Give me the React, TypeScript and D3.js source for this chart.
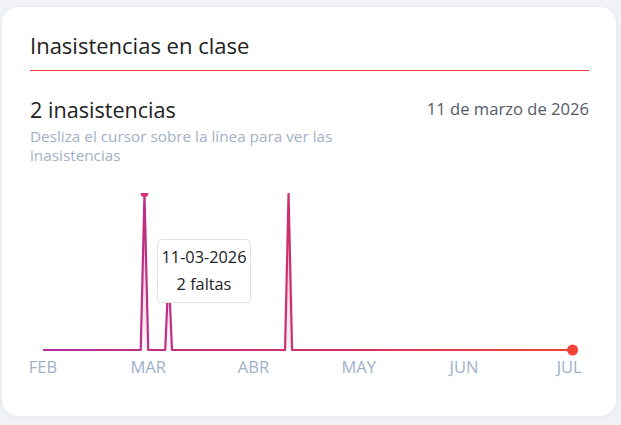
import * as d3 from 'd3';
import React, { useEffect, useRef } from 'react';

// month labels of the x axis
const monthLabels = ['FEB', 'MAR', 'ABR', 'MAY', 'JUN', 'JUL'];
const monthStarts = ['2026-02-01', '2026-03-01', '2026-04-01', '2026-05-01', '2026-06-01', '2026-07-01'];

// days with absences (the rest of the days are 0)
const absenceDates = ['2026-02-28', '2026-03-07', '2026-04-11'];
const absenceCounts = [2, 1, 2];

const rangeStart = '2026-02-01';
const rangeEnd = '2026-07-02';

const hoverDate = '2026-02-28';
const tooltipLines = ['11-03-2026', '2 faltas'];

const FONT = '"Open Sans", "Noto Sans", sans-serif';

const App = () => {
    const chartArea = useRef<SVGSVGElement | null>(null);
    const W = 621, H = 425;
    const margin = { left: 43, right: 49, top: 193, bottom: 74 };

    useEffect(() => {
        if (!chartArea.current) return;
        const svg = d3.select(chartArea.current);
        svg.selectAll('*').remove();

        const parse = d3.timeParse('%Y-%m-%d');
        const days = d3.timeDay.range(parse(rangeStart)!, d3.timeDay.offset(parse(rangeEnd)!, 1));
        const fmt = d3.timeFormat('%Y-%m-%d');
        const lookup = new Map(absenceDates.map((d, i) => [d, absenceCounts[i]]));
        const data = days.map(d => ({ date: d, value: lookup.get(fmt(d)) ?? 0 }));

        // months are evenly spaced, position inside the month by day
        const monthPos = (d: Date) => {
            const m = d.getMonth() - 1;
            const dim = new Date(d.getFullYear(), d.getMonth() + 1, 0).getDate();
            return m + (d.getDate() - 1) / dim;
        };
        const x = d3.scaleLinear().domain([0, monthLabels.length - 1]).range([margin.left, 569.2]);
        const y = d3.scaleLinear().domain([0, 2]).range([H - margin.bottom - 0.5 - 0.5, margin.top]);

        const defs = svg.append('defs');
        const filter = defs.append('filter').attr('id', 'shadow').attr('x', '-10%').attr('y', '-10%').attr('width', '120%').attr('height', '120%');
        filter.append('feDropShadow').attr('dx', 0).attr('dy', 1).attr('stdDeviation', 3).attr('flood-color', '#8a97b5').attr('flood-opacity', 0.18);

        const lg = defs.append('linearGradient').attr('id', 'lineGrad').attr('gradientUnits', 'userSpaceOnUse')
            .attr('x1', margin.left).attr('x2', 575).attr('y1', 0).attr('y2', 0);
        lg.append('stop').attr('offset', '0%').attr('stop-color', '#b0309a');
        lg.append('stop').attr('offset', '50%').attr('stop-color', '#d02f6a');
        lg.append('stop').attr('offset', '100%').attr('stop-color', '#f44336');

        const ag = defs.append('linearGradient').attr('id', 'areaGrad').attr('x1', 0).attr('x2', 0).attr('y1', 0).attr('y2', 1);
        ag.append('stop').attr('offset', '0%').attr('stop-color', '#d6336c').attr('stop-opacity', 0.4);
        ag.append('stop').attr('offset', '100%').attr('stop-color', '#d6336c').attr('stop-opacity', 0.05);

        defs.append('clipPath').attr('id', 'plotClip').append('rect')
            .attr('x', 0).attr('y', margin.top).attr('width', W).attr('height', H - margin.top);

        svg.append('rect').attr('width', W).attr('height', H).attr('fill', '#f1f3f7');
        svg.append('rect').attr('x', 2).attr('y', 7).attr('width', 614).attr('height', 409).attr('rx', 16)
            .attr('fill', '#ffffff').attr('filter', 'url(#shadow)');

        svg.append('text').attr('x', 30).attr('y', 54).attr('font-family', FONT).attr('font-size', 22)
            .attr('fill', '#222').text('Inasistencias en clase');
        svg.append('line').attr('x1', 30).attr('x2', 589).attr('y1', 70.5).attr('y2', 70.5)
            .attr('stroke', '#f44336').attr('stroke-width', 1);

        svg.append('text').attr('x', 30).attr('y', 118).attr('font-family', FONT).attr('font-size', 21.6)
            .attr('fill', '#222').text('2 inasistencias');
        svg.append('text').attr('x', 589).attr('y', 115).attr('text-anchor', 'end').attr('font-family', FONT)
            .attr('font-size', 16.6).attr('fill', '#555b66').text('11 de marzo de 2026');
        svg.append('text').attr('x', 30).attr('y', 142).attr('font-family', FONT).attr('font-size', 15.3)
            .attr('fill', '#a3b0c8').text('Desliza el cursor sobre la línea para ver las');
        svg.append('text').attr('x', 30).attr('y', 161).attr('font-family', FONT).attr('font-size', 15.3)
            .attr('fill', '#a3b0c8').text('inasistencias');

        const plot = svg.append('g').attr('clip-path', 'url(#plotClip)');
        const area = d3.area<{ date: Date, value: number }>()
            .x(d => x(monthPos(d.date))).y0(y(0)).y1(d => y(d.value));
        const line = d3.line<{ date: Date, value: number }>()
            .x(d => x(monthPos(d.date))).y(d => y(d.value));

        plot.append('path').datum(data).attr('d', area).attr('fill', 'url(#areaGrad)');
        plot.append('path').datum(data).attr('d', line).attr('fill', 'none')
            .attr('stroke', 'url(#lineGrad)').attr('stroke-width', 2.2).attr('stroke-linejoin', 'round');

        const hover = data.find(d => fmt(d.date) === hoverDate)!;
        plot.append('circle').attr('cx', x(monthPos(hover.date))).attr('cy', y(hover.value)).attr('r', 4)
            .attr('fill', '#d6336c');

        const last = data[data.length - 1];
        svg.append('circle').attr('cx', x(monthPos(last.date))).attr('cy', y(last.value)).attr('r', 5.5)
            .attr('fill', '#f44336');

        // x axis labels
        svg.append('g').selectAll('text').data(monthLabels).join('text')
            .attr('x', (d, i) => x(monthPos(parse(monthStarts[i])!)))
            .attr('y', 373).attr('text-anchor', 'middle').attr('font-family', FONT).attr('font-size', 16.5)
            .attr('fill', '#9fb0cc').text(d => d);

        // tooltip
        const tip = svg.append('g').attr('transform', 'translate(157,239)');
        tip.append('rect').attr('x', 0.5).attr('y', 0.5).attr('width', 93).attr('height', 63).attr('rx', 4)
            .attr('fill', '#ffffff').attr('stroke', '#dfe2e6');
        tip.selectAll('text').data(tooltipLines).join('text')
            .attr('x', 47).attr('y', (d, i) => 24 + i * 27).attr('text-anchor', 'middle')
            .attr('font-family', FONT).attr('font-size', 16.3).attr('fill', '#222').text(d => d);
    }, []);

    return <svg ref={chartArea} width={W} height={H}
        style={{ position: 'absolute', left: 0, top: 0, display: 'block' }} />;
};

export default App;
